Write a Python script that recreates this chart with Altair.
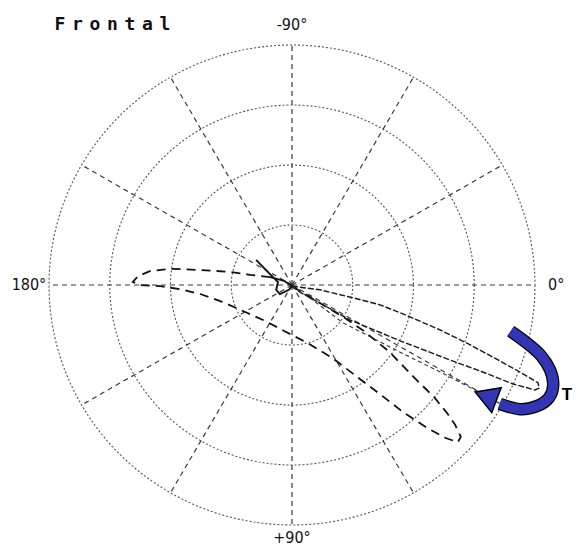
import altair as alt
import pandas as pd
import numpy as np

# ---- grid definition (ring units: outer ring = 4) ----
ring_radii = [1, 2, 3, 4]
spoke_angles = list(range(0, 360, 30))
axis_labels = ["0°", "+90°", "180°", "-90°"]
axis_label_angles = [0, 90, 180, 270]
axis_label_radius = [4.35, 4.22, 4.33, 4.33]

title_letters = list("Frontal")

# ---- small knot at the origin (solid) ----
knot_x = [-0.59, -0.40, -0.23, -0.26, -0.20, -0.05, 0.00, -0.13, -0.36]
knot_y = [-0.42, -0.22, -0.05, 0.08, 0.15, 0.08, 0.02, -0.07, -0.13]

# ---- QRS loop (dashed), x right, y down (+90°) ----
qrs_x = [-0.36, -0.69, -1.02, -1.51, -2.01,
         -2.34, -2.53, -2.62, -2.50, -2.17, -1.84, -1.51, -1.15, -0.77, -0.44, -0.12, 0.26, 0.67,
         1.07, 1.45, 1.83, 2.22, 2.53, 2.73, 2.78, 2.68, 2.55, 2.34, 1.99, 1.61, 1.20, 0.87, 0.46,
         0.13, 0.00]
qrs_y = [-0.13, -0.17, -0.22, -0.25, -0.27,
         -0.23, -0.15, -0.05, 0.00, 0.02, 0.07, 0.15, 0.28, 0.45, 0.60, 0.77, 0.97, 1.22,
         1.53, 1.82, 2.12, 2.38, 2.55, 2.62, 2.53, 2.32, 2.13, 1.87, 1.52, 1.12, 0.78, 0.55, 0.30,
         0.10, 0.02]

# ---- T loop ----
t_x = [0.00, 0.46, 0.95, 1.45, 1.94, 2.44, 2.88, 3.34, 3.75, 4.05, 4.07, 4.00, 3.64, 3.09, 2.60,
       1.78, 0.95, 0.46, 0.13, 0.00]
t_y = [0.02, 0.08, 0.20, 0.33, 0.53, 0.75, 0.97, 1.22, 1.45, 1.63, 1.72, 1.75, 1.65, 1.43, 1.25,
       0.93, 0.58, 0.30, 0.12, 0.02]

# ---- second T branch (ends under the arrow head) ----
t2_x = [0.00, 0.30, 0.84, 1.78, 2.44, 3.05]
t2_y = [0.02, 0.22, 0.63, 1.12, 1.45, 1.77]

# ---- annotation arrow ----
arrow_x = [3.60, 3.87, 4.10, 4.25, 4.30, 4.23, 4.03, 3.75, 3.42]
arrow_y = [0.77, 0.97, 1.18, 1.42, 1.67, 1.88, 2.02, 2.07, 1.98]
head_x = [3.19]
head_y = [1.85]
t_label_x = [4.44]
t_label_y = [1.83]

XD = [-4.675, 4.626]
YD = [-4.617, 4.417]
PX_X = 60.75  # pixels per ring unit (x)


def xy():
    return dict(
        x=alt.X("x:Q", scale=alt.Scale(domain=XD, nice=False, zero=False), axis=None),
        y=alt.Y("y:Q", scale=alt.Scale(domain=YD, nice=False, zero=False, reverse=True), axis=None),
    )


# rings
rows = []
th = np.linspace(0, 2 * np.pi, 241)
for r in ring_radii:
    for i, t in enumerate(th):
        rows.append({"ring": r, "i": i, "x": r * np.cos(t), "y": r * np.sin(t)})
rings_df = pd.DataFrame(rows)

spokes_df = pd.DataFrame({
    "x": [0.0] * len(spoke_angles),
    "y": [0.0] * len(spoke_angles),
    "x2": [ring_radii[-1] * np.cos(np.radians(a)) for a in spoke_angles],
    "y2": [ring_radii[-1] * np.sin(np.radians(a)) for a in spoke_angles],
})

labels_df = pd.DataFrame({
    "label": axis_labels,
    "x": [r * np.cos(np.radians(a)) for r, a in zip(axis_label_radius, axis_label_angles)],
    "y": [r * np.sin(np.radians(a)) for r, a in zip(axis_label_radius, axis_label_angles)],
})

# title letters, spaced like the typewriter-style original
title_df = pd.DataFrame({
    "t": title_letters,
    "x": [(60 - 292 + 17.5 * i) / PX_X for i in range(len(title_letters))],
    "y": [-4.33] * len(title_letters),
})


def path_df(xs, ys):
    return pd.DataFrame({"x": xs, "y": ys, "i": range(len(xs))})


rings = alt.Chart(rings_df).mark_line(
    stroke="#555555", strokeWidth=1.1, strokeDash=[2, 2]
).encode(**xy(), detail="ring:N", order="i:Q")

spokes = alt.Chart(spokes_df).mark_rule(
    stroke="#3a3a3a", strokeWidth=1.2, strokeDash=[5, 4]
).encode(**xy(), x2="x2:Q", y2="y2:Q")

labels = alt.Chart(labels_df).mark_text(
    font="Liberation Sans Narrow, DejaVu Sans Condensed, sans-serif", fontSize=16, color="#111111"
).encode(**xy(), text="label:N")

knot = alt.Chart(path_df(knot_x, knot_y)).mark_line(
    stroke="#111111", strokeWidth=1.9
).encode(**xy(), order="i:Q")

qrs = alt.Chart(path_df(qrs_x, qrs_y)).mark_line(
    stroke="#111111", strokeWidth=1.8, strokeDash=[9, 6]
).encode(**xy(), order="i:Q")

tloop = alt.Chart(path_df(t_x, t_y)).mark_line(
    stroke="#1a1a1a", strokeWidth=1.4, strokeDash=[6, 2]
).encode(**xy(), order="i:Q")

t2 = alt.Chart(path_df(t2_x, t2_y)).mark_line(
    stroke="#333333", strokeWidth=1.1, strokeDash=[4, 3]
).encode(**xy(), order="i:Q")

arrow_outline = alt.Chart(path_df(arrow_x, arrow_y)).mark_line(
    stroke="black", strokeWidth=12.5, interpolate="cardinal", strokeCap="butt"
).encode(**xy(), order="i:Q")

arrow_body = alt.Chart(path_df(arrow_x, arrow_y)).mark_line(
    stroke="#3236b4", strokeWidth=10, interpolate="cardinal", strokeCap="butt"
).encode(**xy(), order="i:Q")

arrow_head = alt.Chart(pd.DataFrame({"x": head_x, "y": head_y})).mark_point(
    shape="triangle-left", size=700, filled=True, fill="#3236b4", stroke="black",
    strokeWidth=1.5, opacity=1, angle=21
).encode(**xy())

t_label = alt.Chart(pd.DataFrame({"x": t_label_x, "y": t_label_y, "t": ["T"]})).mark_text(
    font="Liberation Sans, Arial, sans-serif", fontSize=17, fontWeight="bold", align="left",
    color="black"
).encode(**xy(), text="t:N")

title = alt.Chart(title_df).mark_text(
    font="DejaVu Sans Mono, monospace", fontSize=18, fontWeight="bold",
    color="#111111"
).encode(**xy(), text="t:N")

chart = alt.layer(
    rings, spokes, labels, qrs, tloop, t2, knot, arrow_outline, arrow_body, arrow_head, t_label, title
).properties(
    width=565, height=542, padding=0, autosize="none", background="white"
).configure_view(stroke=None)

chart.save("out.html", embed_options={"renderer": "svg", "actions": False})
